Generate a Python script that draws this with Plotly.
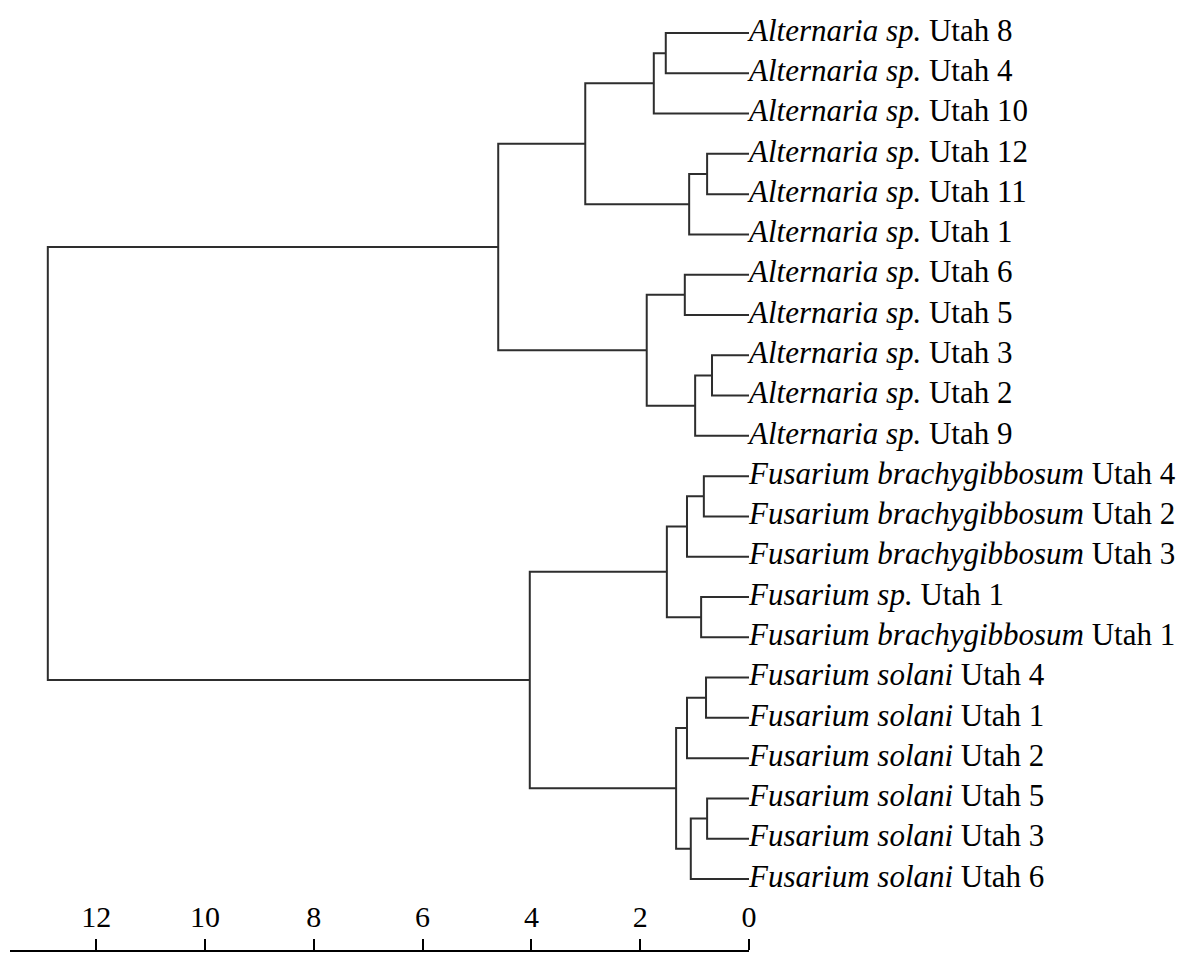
import plotly.graph_objects as go

# Leaves, top to bottom
leaf_genus = [
    "Alternaria sp.", "Alternaria sp.", "Alternaria sp.", "Alternaria sp.",
    "Alternaria sp.", "Alternaria sp.", "Alternaria sp.", "Alternaria sp.",
    "Alternaria sp.", "Alternaria sp.", "Alternaria sp.",
    "Fusarium brachygibbosum", "Fusarium brachygibbosum", "Fusarium brachygibbosum",
    "Fusarium sp.", "Fusarium brachygibbosum",
    "Fusarium solani", "Fusarium solani", "Fusarium solani",
    "Fusarium solani", "Fusarium solani", "Fusarium solani",
]
leaf_strain = [
    "Utah 8", "Utah 4", "Utah 10", "Utah 12", "Utah 11", "Utah 1",
    "Utah 6", "Utah 5", "Utah 3", "Utah 2", "Utah 9",
    "Utah 4", "Utah 2", "Utah 3", "Utah 1", "Utah 1",
    "Utah 4", "Utah 1", "Utah 2", "Utah 5", "Utah 3", "Utah 6",
]

# Merges (children: int = leaf index, str = internal node id), heights in distance units
node_ids = ["n1", "n2", "n3", "n4", "n5", "n6", "n7", "n8", "n9", "n10",
            "n11", "n12", "n13", "n14", "n15", "n16", "n17", "n18", "n19", "n20", "root"]
left_child = [0, "n1", 3, "n3", "n2", 6, 8, "n7", "n6", "n5",
              11, "n11", 14, "n12", 16, "n15", 19, "n17", "n16", "n14", "n10"]
right_child = [1, 2, 4, 5, "n4", 7, 9, 10, "n8", "n9",
               12, 13, 15, "n13", 17, 18, 20, 21, "n18", "n19", "n20"]
node_height = [1.53, 1.75, 0.77, 1.10, 3.01, 1.18, 0.68, 0.99, 1.88, 4.61,
               0.83, 1.14, 0.88, 1.51, 0.79, 1.14, 0.77, 1.07, 1.34, 4.03, 12.89]

tick_vals = [12, 10, 8, 6, 4, 2, 0]
tick_text = ["12", "10", "8", "6", "4", "2", "0"]

# Build dendrogram segments
pos = {}
for i in range(len(leaf_genus)):
    pos[i] = (0.0, float(i))

xs, ys = [], []
for nid, a, b, h in zip(node_ids, left_child, right_child, node_height):
    xa, ya = pos[a]
    xb, yb = pos[b]
    xs += [xa, h, h, xb, None]
    ys += [ya, ya, yb, yb, None]
    pos[nid] = (h, (ya + yb) / 2)

labels = [f"<i>{g}</i> {s}" for g, s in zip(leaf_genus, leaf_strain)]
n = len(labels)

fig = go.Figure()
fig.add_trace(go.Scatter(
    x=xs, y=ys, mode="lines",
    line=dict(color="#2e2e2e", width=2),
    hoverinfo="skip", showlegend=False,
))
fig.add_trace(go.Scatter(
    x=[0] * n, y=list(range(n)), mode="text",
    text=labels, textposition="middle right",
    textfont=dict(family="Liberation Serif", size=31, color="black"),
    cliponaxis=False, showlegend=False, hoverinfo="skip",
))

fig.update_layout(
    width=1193, height=954,
    margin=dict(l=10, r=444, t=0, b=3),
    paper_bgcolor="white", plot_bgcolor="white",
    xaxis=dict(
        range=[13.585, 0],
        side="top", anchor="free", position=0,
        tickvals=tick_vals, ticktext=tick_text,
        ticks="outside", ticklen=11, tickwidth=2, tickcolor="black",
        showline=True, linecolor="black", linewidth=2,
        showgrid=False, zeroline=False,
        tickfont=dict(family="Liberation Serif", size=30, color="black"),
    ),
    yaxis=dict(
        range=[22.787, -0.819],
        visible=False, showgrid=False, zeroline=False,
    ),
)

fig.write_html("out.html")
